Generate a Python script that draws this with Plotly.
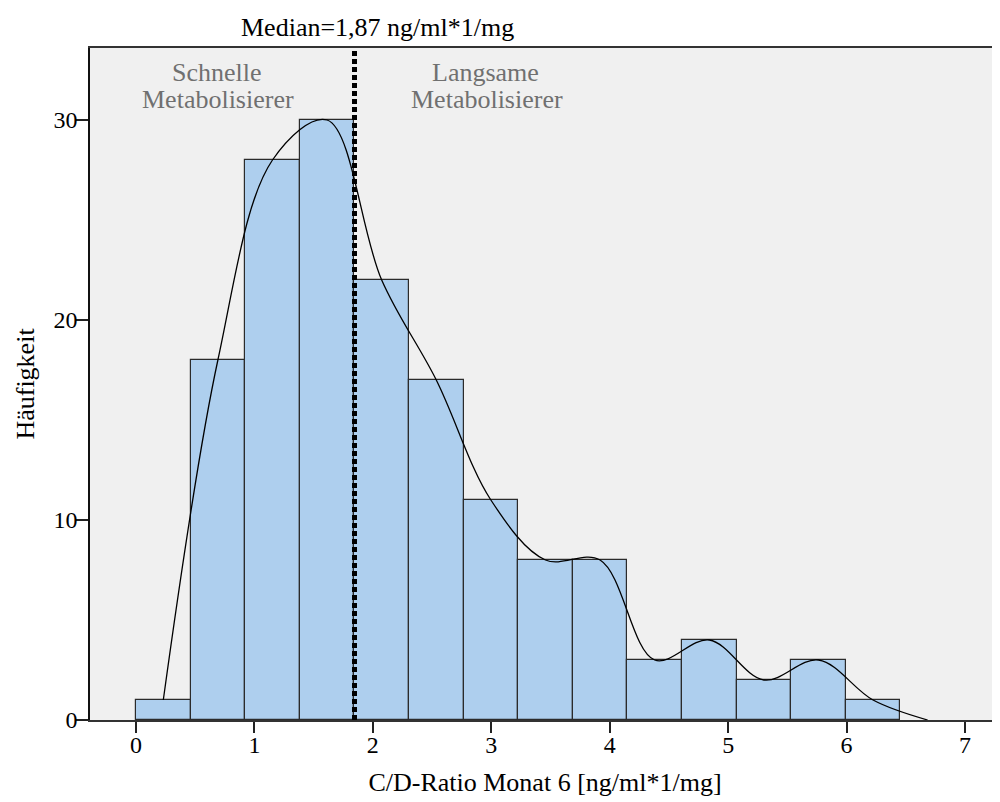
import plotly.graph_objects as go

# ---- data ----
bin_start = 0.0
bin_width = 0.461
counts = [1, 18, 28, 30, 22, 17, 11, 8, 8, 3, 4, 2, 3, 1]
median_pos = 1.845
median_label = "Median=1,87 ng/ml*1/mg"
x_ticks = [0, 1, 2, 3, 4, 5, 6, 7]
y_ticks = [0, 10, 20, 30]
x_title = "C/D-Ratio Monat 6 [ng/ml*1/mg]"
y_title = "Häufigkeit"

mids = [bin_start + bin_width * (i + 0.5) for i in range(len(counts))]
# interpolation line through bin tops, closed with the next (empty) bin
curve_x = mids + [bin_start + bin_width * (len(counts) + 0.5)]
curve_y = counts + [0]

FONT = "Liberation Serif"

fig = go.Figure()
fig.add_trace(go.Bar(
    x=mids, y=counts, width=bin_width,
    marker=dict(color="#aecfee", line=dict(color="#2b2b2b", width=1.2)),
    hoverinfo="skip",
))
fig.add_trace(go.Scatter(
    x=curve_x, y=curve_y, mode="lines",
    line=dict(color="black", width=1.3, shape="spline", smoothing=1.0),
    hoverinfo="skip",
))

fig.add_shape(type="line", xref="x", yref="paper",
              x0=median_pos, x1=median_pos, y0=0, y1=1,
              line=dict(color="black", width=5, dash="5px,3px"), layer="above")

ann_font = dict(family=FONT, size=26, color="#707070")
annotations = [
    dict(x=0.684, y=0.9628, text="Schnelle"),
    dict(x=0.692, y=0.9241, text="Metabolisierer"),
    dict(x=2.955, y=0.9628, text="Langsame"),
    dict(x=2.964, y=0.9241, text="Metabolisierer"),
]
for a in annotations:
    fig.add_annotation(xref="x", yref="paper", showarrow=False,
                       xanchor="center", yanchor="middle", font=ann_font, **a)
fig.add_annotation(xref="x", yref="paper", x=2.043, y=1.0298, showarrow=False,
                   xanchor="center", yanchor="middle", text=median_label,
                   font=dict(family=FONT, size=26, color="black"))

fig.update_layout(
    width=992, height=794,
    margin=dict(l=82, r=0, t=40, b=82),
    paper_bgcolor="white", plot_bgcolor="#f0f0f0",
    showlegend=False, bargap=0,
    font=dict(family=FONT, size=24, color="black"),
)
fig.update_xaxes(
    range=[-0.3884, 7.2955], tickvals=x_ticks, ticktext=[str(v) for v in x_ticks],
    showgrid=False, zeroline=False,
    showline=True, linecolor="#333333", linewidth=2, mirror=True,
    ticks="outside", ticklen=11, tickwidth=1.5, tickcolor="#222222",
    ticklabelstandoff=-9,
    tickfont=dict(family=FONT, size=24, color="black"),
    title=dict(text=x_title, font=dict(family=FONT, size=26, color="black"), standoff=16),
)
fig.update_yaxes(
    range=[0, 33.6], tickvals=y_ticks, ticktext=[str(v) for v in y_ticks],
    showgrid=False, zeroline=False,
    showline=True, linecolor="#111111", linewidth=1.5,
    ticks="outside", ticklen=12, tickwidth=1.5, tickcolor="#222222",
    ticklabelstandoff=-6,
    tickfont=dict(family=FONT, size=24, color="black"),
    title=dict(text=y_title, font=dict(family=FONT, size=26, color="black"), standoff=11),
)

fig.write_html("out.html")
